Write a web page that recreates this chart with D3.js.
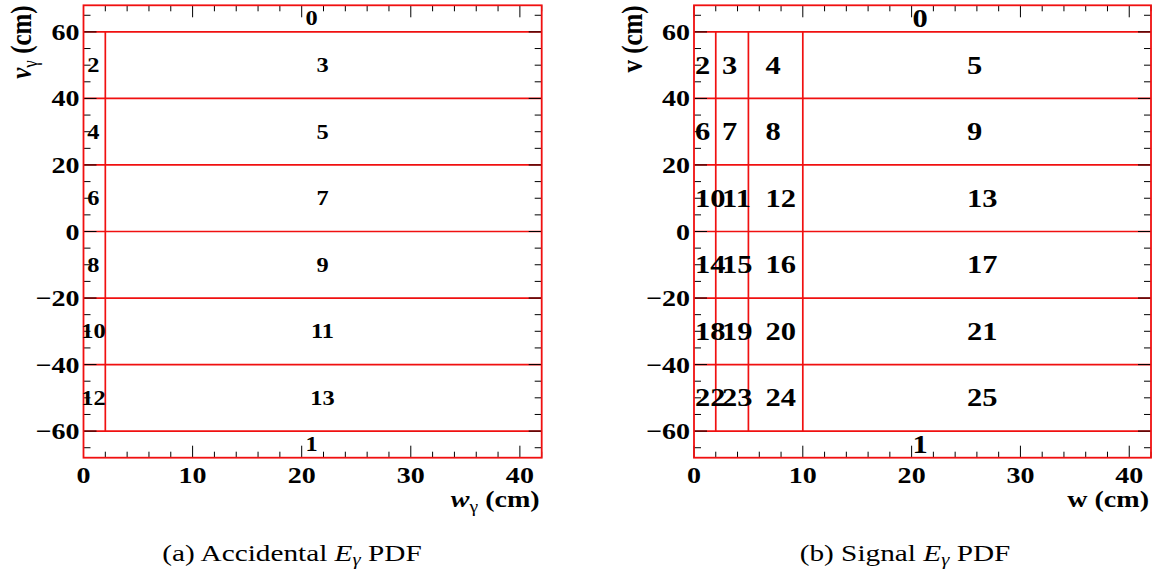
<!DOCTYPE html>
<html><head><meta charset="utf-8">
<script src="https://cdn.jsdelivr.net/npm/d3@7"></script>
<style>
body{margin:0;background:#fff}
text{font-family:"Liberation Serif","Times New Roman",Times,serif}
</style>
</head><body>
<svg id="c" width="1154" height="583" xmlns="http://www.w3.org/2000/svg"></svg>
<script>
// ---------- data ----------
const wDomain = [0, 42];
const vDomain = [-68, 68];
const xTickValues = [0, 10, 20, 30, 40];
const xMinorValues = [0,2,4,6,8,10,12,14,16,18,20,22,24,26,28,30,32,34,36,38,40,42];
const yTickValues = [-60, -40, -20, 0, 20, 40, 60];
const yMinorValues = [-65,-60,-55,-50,-45,-40,-35,-30,-25,-20,-15,-10,-5,0,5,10,15,20,25,30,35,40,45,50,55,60,65];

const accHLines = [60, 40, 20, 0, -20, -40, -60];
const accVLines = [2];
const accLabelIds = [0, 1, 2, 3, 4, 5, 6, 7, 8, 9, 10, 11, 12, 13];
const accLabelW   = [21, 21, 1, 22, 1, 22, 1, 22, 1, 22, 1, 22, 1, 22];
const accLabelV   = [64, -64, 50, 50, 30, 30, 10, 10, -10, -10, -30, -30, -50, -50];

const sigHLines = [60, 40, 20, 0, -20, -40, -60];
const sigVLines = [2, 5, 10];
const sigLabelIds = [0, 1, 2, 3, 4, 5, 6, 7, 8, 9, 10, 11, 12, 13, 14, 15, 16, 17, 18, 19, 20, 21, 22, 23, 24, 25];
const sigLabelW   = [21, 21, 1, 3.5, 7.5, 26, 1, 3.5, 7.5, 26, 1, 3.5, 7.5, 26, 1, 3.5, 7.5, 26, 1, 3.5, 7.5, 26, 1, 3.5, 7.5, 26];
const sigLabelV   = [64, -64, 50, 50, 50, 50, 30, 30, 30, 30, 10, 10, 10, 10, -10, -10, -10, -10, -30, -30, -30, -30, -50, -50, -50, -50];

// ---------- layout ----------
const SX = 1.22;           // horizontal stretch of the original figure's text
const svg = d3.select("#c");

function stretchedText(g, x, y, size, weight, anchor, rot) {
  return g.append("text")
    .attr("transform", `translate(${x},${y}) scale(${SX},1)` + (rot ? ` rotate(${rot})` : ""))
    .style("font-size", size + "px")
    .style("font-weight", weight)
    .attr("text-anchor", anchor)
    .attr("fill", "#000");
}

function panel(cfg) {
  const g = svg.append("g");
  const x = d3.scaleLinear().domain(wDomain).range([cfg.left, cfg.right]);
  const y = d3.scaleLinear().domain(vDomain).range([cfg.bottom, cfg.top]);

  // red bin boundaries
  g.selectAll("line.hline").data(cfg.hLines).join("line").attr("class", "hline")
    .attr("x1", x(wDomain[0])).attr("x2", x(wDomain[1]))
    .attr("y1", d => y(d)).attr("y2", d => y(d))
    .attr("stroke", "#f01010").attr("stroke-width", 1.7);
  g.selectAll("line.vline").data(cfg.vLines).join("line").attr("class", "vline")
    .attr("x1", d => x(d)).attr("x2", d => x(d))
    .attr("y1", y(60)).attr("y2", y(-60))
    .attr("stroke", "#f01010").attr("stroke-width", 1.7);

  // ticks (black)
  const tk = g.append("g").attr("stroke", "#000").attr("stroke-width", 1);
  const xMaj = new Set(xTickValues), yMaj = new Set(yTickValues);
  xMinorValues.forEach(v => {
    const L = xMaj.has(v) ? 12 : 6;
    tk.append("line").attr("x1", x(v)).attr("x2", x(v)).attr("y1", cfg.bottom).attr("y2", cfg.bottom - L);
    tk.append("line").attr("x1", x(v)).attr("x2", x(v)).attr("y1", cfg.top).attr("y2", cfg.top + L);
  });
  yMinorValues.forEach(v => {
    const L = yMaj.has(v) ? 13 : 7;
    tk.append("line").attr("x1", cfg.left).attr("x2", cfg.left + L).attr("y1", y(v)).attr("y2", y(v));
    tk.append("line").attr("x1", cfg.right).attr("x2", cfg.right - L).attr("y1", y(v)).attr("y2", y(v));
  });

  // frame (red)
  g.append("rect").attr("x", cfg.left).attr("y", cfg.top)
    .attr("width", cfg.right - cfg.left).attr("height", cfg.bottom - cfg.top)
    .attr("fill", "none").attr("stroke", "#f01010").attr("stroke-width", 1.8);

  // tick labels
  xTickValues.forEach(v => {
    stretchedText(g, x(v), cfg.bottom + 25, 23, "bold", "middle").text(String(v));
  });
  yTickValues.forEach(v => {
    stretchedText(g, cfg.left - 4, y(v) + 8, 23, "bold", "end")
      .text(v < 0 ? "\u2212" + Math.abs(v) : String(v));
  });

  // bin labels
  cfg.ids.forEach((id, i) => {
    stretchedText(g, x(cfg.lw[i]) + cfg.labelDx, y(cfg.lv[i]) + cfg.labelSize * 0.34,
      cfg.labelSize, "bold", cfg.labelAnchor).text(String(id));
  });

  // x title
  const xt = stretchedText(g, cfg.right - 2, 507, 23, "bold", "end");
  xt.append("tspan").style("font-style", cfg.italic ? "italic" : "normal").text(cfg.xVar);
  if (cfg.sub) xt.append("tspan").style("font-weight", "normal").style("font-size", "16px").attr("dy", 5).text("\u03b3");
  xt.append("tspan").attr("dy", cfg.sub ? -5 : 0).text(" (cm)");

  // y title
  const yt = stretchedText(g, cfg.yTitleX, cfg.top, 25, "bold", "end", -90);
  yt.append("tspan").style("font-style", cfg.italic ? "italic" : "normal").text(cfg.yVar);
  if (cfg.sub) yt.append("tspan").style("font-weight", "normal").style("font-size", "17px").attr("dy", 5).text("\u03b3");
  yt.append("tspan").attr("dy", cfg.sub ? -5 : 0).text(" (cm)");

  // caption
  const cap = stretchedText(svg, cfg.capX, 561, 24, "normal", "middle");
  cap.append("tspan").text(cfg.capPre);
  cap.append("tspan").style("font-style", "italic").text("E");
  cap.append("tspan").style("font-style", "italic").style("font-size", "17px").attr("dy", 4).text("\u03b3");
  cap.append("tspan").attr("dy", -4).text(" PDF");
}

panel({left: 83.5, right: 541.7, top: 5.3, bottom: 457.7,
  hLines: accHLines, vLines: accVLines,
  ids: accLabelIds, lw: accLabelW, lv: accLabelV,
  labelSize: 20, labelAnchor: "middle", labelDx: -1,
  xVar: "w", yVar: "v", sub: true, italic: true, yTitleX: 31,
  capX: 292, capPre: "(a) Accidental "});

panel({left: 694, right: 1151, top: 5.3, bottom: 457.7,
  hLines: sigHLines, vLines: sigVLines,
  ids: sigLabelIds, lw: sigLabelW, lv: sigLabelV,
  labelSize: 25, labelAnchor: "start", labelDx: -10,
  xVar: "w", yVar: "v", sub: false, italic: false, yTitleX: 642,
  capX: 905, capPre: "(b) Signal "});
</script>
</body></html>
